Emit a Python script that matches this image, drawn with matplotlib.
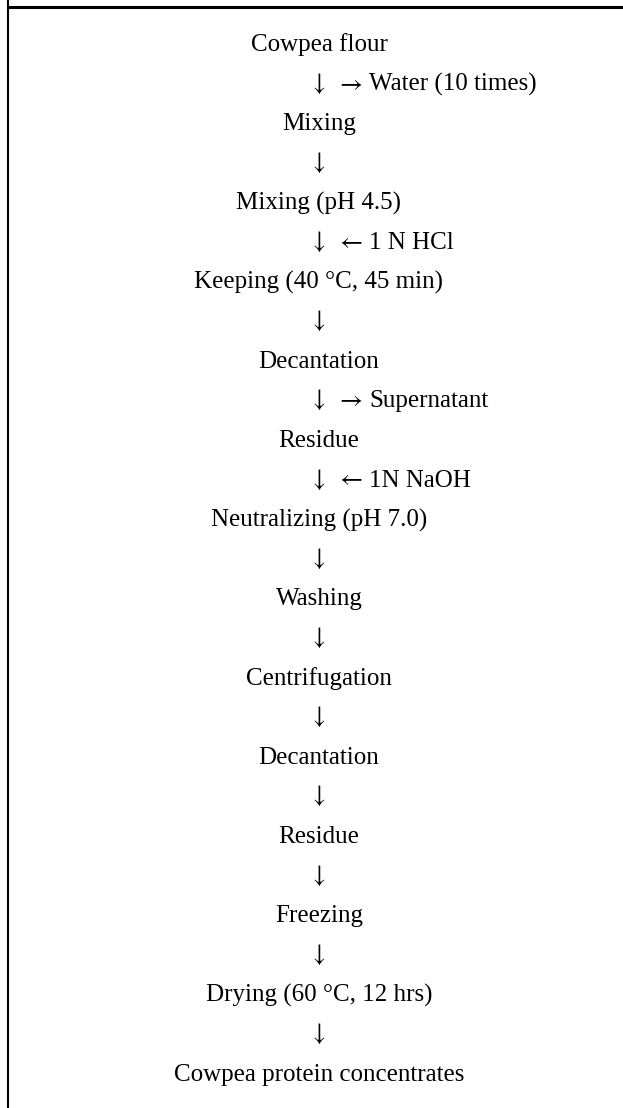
import matplotlib
matplotlib.use("Agg")
import matplotlib.pyplot as plt

plt.rcParams["mathtext.fontset"] = "stix"

# flow chart content
steps = [
    "Cowpea flour",
    "Mixing",
    "Mixing (pH 4.5)",
    "Keeping (40 °C, 45 min)",
    "Decantation",
    "Residue",
    "Neutralizing (pH 7.0)",
    "Washing",
    "Centrifugation",
    "Decantation",
    "Residue",
    "Freezing",
    "Drying (60 °C, 12 hrs)",
    "Cowpea protein concentrates",
]
# side inputs/outputs on the arrow that follows a step
note_steps = [0, 2, 4, 5]
note_dirs = ["right", "left", "right", "left"]
note_labels = ["Water (10 times)", "1 N HCl", "Supernatant", "1N NaOH"]

W, H = 623, 1108
fig = plt.figure(figsize=(W / 100, H / 100), dpi=100)
ax = fig.add_axes([0, 0, 1, 1])
ax.set_xlim(0, W)
ax.set_ylim(H, 0)
ax.axis("off")

font = dict(family=["Liberation Serif", "DejaVu Serif"], size=18, color="black")
cx = 319
down_x = 317
arrow_x = 336
label_x = 369
base_y = 51
step_h = 39.6

notes = {s: (d, l) for s, d, l in zip(note_steps, note_dirs, note_labels)}
sym = {"right": r"$\rightarrow$", "left": r"$\leftarrow$"}

row = 0
for i, s in enumerate(steps):
    ax.text(cx, base_y + row * step_h, s, ha="center", va="baseline", **font)
    row += 1
    if i < len(steps) - 1:
        y = base_y + row * step_h
        ax.text(down_x, y - 1, r"$\downarrow$", ha="center", va="baseline", **font)
        if i in notes:
            d, lab = notes[i]
            ax.text(arrow_x, y - 1, sym[d], ha="left", va="baseline", **font)
            ax.text(label_x, y, lab, ha="left", va="baseline", **font)
        row += 1

# frame lines (top and left)
ax.plot([8, W], [7, 7], color="black", lw=2.2, solid_capstyle="butt")
ax.plot([8, 8], [0, H], color="black", lw=1.5, solid_capstyle="butt")

fig.savefig("out.png", dpi=100)
